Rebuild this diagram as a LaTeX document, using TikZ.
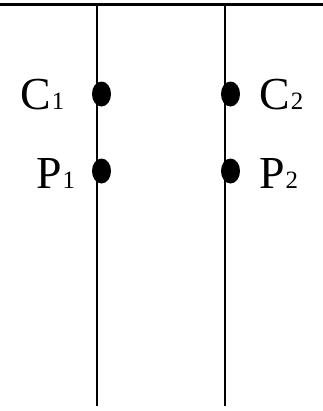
\documentclass[tikz,border=0pt]{standalone}
\usepackage{fontspec}
\setmainfont{Liberation Serif}
\usetikzlibrary{shapes.geometric}
\begin{document}
\begin{tikzpicture}[x=1bp,y=-1bp,
  wire/.style={line width=2.6bp,black},
  contact/.style={ellipse,fill=black,inner sep=0pt,minimum width=19bp,minimum height=25bp},
  lbl/.style={anchor=base west,inner sep=0pt,font=\fontsize{46}{46}\selectfont},
  sub/.style={}]
\useasboundingbox (0,0) rectangle (323,411);
\coordinate (hl) at (0,4.7);
\coordinate (hr) at (323,4.7);
\coordinate (lt) at (97,4.7);
\coordinate (lb) at (97,406);
\coordinate (rt) at (225,4.7);
\coordinate (rb) at (225,406);
\draw[wire] (hl) -- (hr);
\draw[wire] (lt) -- (lb);
\draw[wire] (rt) -- (rb);
\node[contact] (c1) at (101.5,94) {};
\node[contact] (p1) at (101.5,171) {};
\node[contact] (c2) at (230.5,94) {};
\node[contact] (p2) at (230.5,171) {};
\node[lbl] (lc1) at (20,109) {C\hspace{1bp}{\fontsize{25}{25}\selectfont 1}};
\node[lbl] (lp1) at (36,188) {P\hspace{1bp}{\fontsize{25}{25}\selectfont 1}};
\node[lbl] (lc2) at (259,109) {C\hspace{1bp}{\fontsize{25}{25}\selectfont 2}};
\node[lbl] (lp2) at (259,188) {P\hspace{1bp}{\fontsize{25}{25}\selectfont 2}};
\end{tikzpicture}
\end{document}
